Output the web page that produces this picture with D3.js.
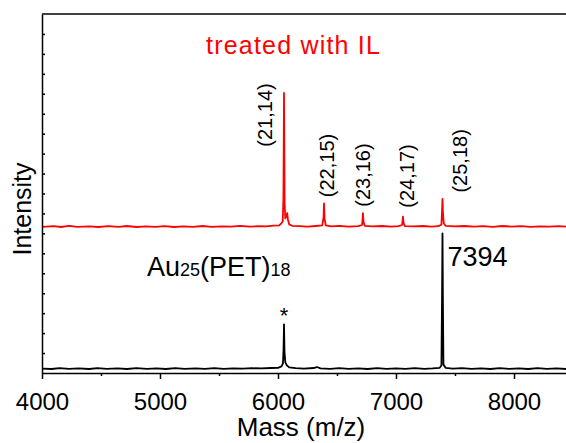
<!DOCTYPE html>
<html lang="en">
  <head>
    <meta charset="utf-8">
    <title>MALDI mass spectra | Au25(PET)18</title>
    <script src="https://d3js.org/d3.v7.min.js"></script>
    <style type="text/css">
      body {
        margin: 0;
        background-color: #FFFFFF;
        font-family: 'Liberation Sans', Arial, sans-serif;
      }
      .axis path, .axis line {
        stroke: #000000;
        stroke-width: 1.5;
      }
      .axis text {
        font-family: 'Liberation Sans', Arial, sans-serif;
        font-size: 24px;
        fill: #000000;
      }
      .spectrum {
        fill: none;
        stroke-width: 1.8;
        stroke-linejoin: round;
      }
    </style>
  </head>
  <body>
  </body>
  <script type="text/javascript">
    // Data (mass in Da, intensity in arbitrary units above each trace's baseline)
    var redMass = [4000, 4100, 4160, 4230, 4300, 4400, 4480, 4560, 4650, 4720, 4800, 4880, 4960, 5040,
                   5120, 5200, 5280, 5360, 5440, 5520, 5600, 5680, 5760, 5840, 5900, 5960, 6010, 6030,
                   6040, 6046, 6051, 6056, 6062, 6070, 6078, 6084, 6095, 6120, 6180, 6250, 6320, 6375,
                   6386, 6390, 6394, 6405, 6450, 6520, 6600, 6680, 6712, 6717, 6720, 6724, 6735, 6800,
                   6880, 6960, 7020, 7052, 7056, 7059, 7063, 7075, 7150, 7230, 7300, 7360, 7385, 7390,
                   7394, 7398, 7405, 7420, 7500, 7580, 7660, 7740, 7820, 7900, 7980, 8060, 8140, 8220,
                   8300, 8380, 8460, 8540, 8620];
    var redInt = [0.03, 0.06, 0.02, 0.08, 0.03, 0.05, 0.02, 0.06, 0.03, 0.07, 0.02, 0.05, 0.03, 0.06,
                  0.02, 0.05, 0.03, 0.07, 0.03, 0.05, 0.04, 0.08, 0.04, 0.06, 0.05, 0.09, 0.10, 0.22,
                  0.30, 1.50, 6.74, 1.20, 0.45, 0.55, 0.72, 0.40, 0.15, 0.08, 0.06, 0.04, 0.07, 0.10,
                  0.50, 1.20, 0.45, 0.10, 0.05, 0.08, 0.04, 0.06, 0.12, 0.40, 0.72, 0.30, 0.08, 0.05,
                  0.07, 0.04, 0.06, 0.12, 0.35, 0.54, 0.25, 0.06, 0.05, 0.07, 0.04, 0.06, 0.15, 0.80,
                  1.43, 0.70, 0.20, 0.08, 0.05, 0.07, 0.04, 0.06, 0.03, 0.07, 0.04, 0.06, 0.03, 0.05,
                  0.04, 0.06, 0.03, 0.05, 0.03];

    var blackMass = [4000, 4080, 4150, 4230, 4310, 4400, 4470, 4550, 4640, 4720, 4800, 4890, 4970, 5050,
                     5130, 5210, 5300, 5380, 5460, 5540, 5620, 5700, 5780, 5860, 5940, 6000, 6030, 6042,
                     6047, 6051, 6055, 6062, 6075, 6095, 6150, 6220, 6300, 6330, 6360, 6440, 6520, 6600,
                     6680, 6760, 6840, 6920, 7000, 7080, 7160, 7240, 7310, 7370, 7385, 7390, 7394, 7398,
                     7402, 7420, 7480, 7560, 7640, 7720, 7800, 7880, 7960, 8040, 8120, 8200, 8280, 8360,
                     8440, 8520, 8620];
    var blackInt = [0.04, 0.02, 0.06, 0.03, 0.05, 0.02, 0.06, 0.03, 0.05, 0.02, 0.06, 0.03, 0.05, 0.02,
                    0.06, 0.03, 0.05, 0.03, 0.06, 0.03, 0.05, 0.04, 0.06, 0.05, 0.07, 0.08, 0.15, 0.30,
                    1.00, 2.26, 0.90, 0.35, 0.20, 0.10, 0.06, 0.04, 0.07, 0.12, 0.05, 0.03, 0.06, 0.03,
                    0.05, 0.02, 0.06, 0.03, 0.05, 0.03, 0.06, 0.03, 0.05, 0.08, 0.20, 3.50, 6.82, 3.00,
                    0.25, 0.08, 0.04, 0.06, 0.03, 0.05, 0.02, 0.06, 0.03, 0.05, 0.02, 0.06, 0.03, 0.05,
                    0.02, 0.05, 0.03];

    // Peak annotations on the red trace: (Au, ligand) labels and their peak masses
    var peakLabels = ["(21,14)", "(22,15)", "(23,16)", "(24,17)", "(25,18)"];
    var peakMass = [6051, 6390, 6720, 7059, 7394];

    var xTicks = [4000, 5000, 6000, 7000, 8000];
    var xMinorTicks = [4500, 5500, 6500, 7500, 8500];

    // Configurations
    var RED_OFFSET = 7.3,
        BLACK_OFFSET = 0.18,
        Y_MAX = 18,
        RED = "#FF0000",
        BLACK = "#000000";

    var width = 566,
        height = 443,
        margin = {top: 14, left: 42, bottom: 70};

    var svg = d3.select("body").append("svg")
        .attr("width", width)
        .attr("height", height);

    var xScale = d3.scaleLinear()
        .domain([4000, 8000])
        .range([margin.left, 514]);

    var yScale = d3.scaleLinear()
        .domain([0, Y_MAX])
        .range([height - margin.bottom, margin.top]);

    var plotBottom = yScale(0);

    svg.append("clipPath")
        .attr("id", "plot-clip")
      .append("rect")
        .attr("x", margin.left)
        .attr("y", margin.top)
        .attr("width", width - margin.left)
        .attr("height", plotBottom - margin.top);

    function makeLine(offset) {
      return d3.line()
          .x(function(d) { return xScale(d.m); })
          .y(function(d) { return yScale(d.v + offset); });
    }

    var redData = redMass.map(function(m, i) { return {m: m, v: redInt[i]}; });
    var blackData = blackMass.map(function(m, i) { return {m: m, v: blackInt[i]}; });

    var traces = svg.append("g").attr("clip-path", "url(#plot-clip)");

    traces.append("path")
        .datum(blackData)
        .attr("class", "spectrum")
        .attr("stroke", BLACK)
        .attr("d", makeLine(BLACK_OFFSET));

    traces.append("path")
        .datum(redData)
        .attr("class", "spectrum")
        .attr("stroke", RED)
        .attr("d", makeLine(RED_OFFSET));

    // Bottom axis: major ticks labelled, minor ticks in between
    svg.append("g")
        .attr("class", "axis")
        .attr("transform", "translate(0," + plotBottom + ")")
        .call(d3.axisBottom(xScale)
            .tickValues(xMinorTicks)
            .tickSize(3)
            .tickFormat(""))
        .select(".domain").remove();

    var xAxis = svg.append("g")
        .attr("class", "axis")
        .attr("transform", "translate(0," + plotBottom + ")")
        .call(d3.axisBottom(xScale)
            .tickValues(xTicks)
            .tickSize(6)
            .tickSizeOuter(0)
            .tickPadding(9)
            .tickFormat(d3.format("d")));
    xAxis.select(".domain")
        .attr("d", "M" + margin.left + ",0.5H" + width);
    xAxis.selectAll(".tick text").attr("dy", "0.9em");

    // Left axis: unlabelled inward ticks
    svg.append("g")
        .attr("class", "axis")
        .attr("transform", "translate(" + margin.left + ",0)")
        .call(d3.axisLeft(yScale)
            .tickValues(d3.range(1, Y_MAX))
            .tickSize(-3)
            .tickSizeOuter(0)
            .tickFormat(""));

    // Top frame line
    svg.append("line")
        .attr("x1", margin.left)
        .attr("x2", width)
        .attr("y1", margin.top)
        .attr("y2", margin.top)
        .attr("stroke", BLACK)
        .attr("stroke-width", 1.5);

    // Axis titles
    svg.append("text")
        .attr("x", 301)
        .attr("y", 436)
        .attr("text-anchor", "middle")
        .style("font-size", "26px")
        .text("Mass (m/z)");

    svg.append("text")
        .attr("transform", "translate(31," + 209 + ") rotate(-90)")
        .attr("text-anchor", "middle")
        .style("font-size", "25px")
        .text("Intensity");

    // Annotations
    svg.append("text")
        .attr("x", 206)
        .attr("y", 54)
        .attr("fill", RED)
        .style("font-size", "25px")
        .style("letter-spacing", "1.2px")
        .text("treated with IL");

    var labelShift = [-19, 3, 0, 4, 18];
    svg.selectAll(".peak-label")
        .data(peakLabels)
      .enter().append("text")
        .attr("class", "peak-label")
        .attr("transform", function(d, i) {
          var y = yScale(redInt[redMass.indexOf(peakMass[i])] + RED_OFFSET);
          var cy = i === 0 ? 115 : Math.min(y - 38, 176);
          return "translate(" + (xScale(peakMass[i]) + labelShift[i] + 7) + "," + cy + ") rotate(-90)";
        })
        .attr("text-anchor", "middle")
        .style("font-size", "20px")
        .text(function(d) { return d; });

    svg.append("text")
        .attr("x", xScale(7394) + 5)
        .attr("y", 266)
        .style("font-size", "27px")
        .text("7394");

    svg.append("text")
        .attr("x", xScale(6051))
        .attr("y", 323)
        .attr("text-anchor", "middle")
        .style("font-size", "22px")
        .text("*");

    var formula = svg.append("text")
        .attr("x", 147)
        .attr("y", 276)
        .style("font-size", "27px");
    formula.append("tspan").text("Au");
    formula.append("tspan").style("font-size", "18px").text("25");
    formula.append("tspan").text("(PET)");
    formula.append("tspan").style("font-size", "18px").text("18");

  </script>
</html>
